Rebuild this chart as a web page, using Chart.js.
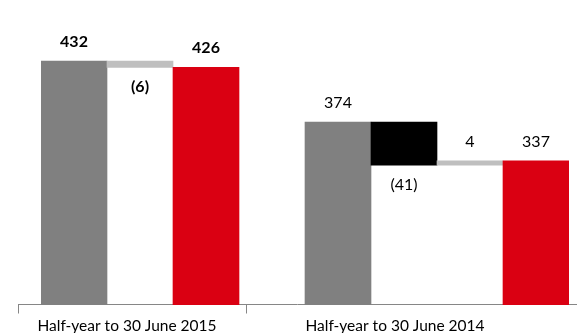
<!DOCTYPE html>
<html>
<head>
<meta charset="utf-8">
<script src="https://cdn.jsdelivr.net/npm/chart.js@4/dist/chart.umd.min.js"></script>
<style>
  html, body { margin: 0; padding: 0; background: #fff; }
</style>
</head>
<body>
<canvas id="chart" width="577" height="333"></canvas>
<script>
// Two periods, each a waterfall from opening total to closing total
const groupLabels = ['Half-year to 30 June 2015', 'Half-year to 30 June 2014'];
// one slot per bar; the empty slot separates the two periods
const slotNames = ['2015 open', '2015 change', '2015 close', '', '2014 open', '2014 change 1', '2014 change 2', '2014 close'];
const stepValues = [432, -6, 426, null, 374, -41, 4, 337];
const stepIsTotal = [true, false, true, false, true, false, false, true];
const stepColors = ['#808080', '#BFBFBF', '#DA0012', null, '#808080', '#000000', '#BFBFBF', '#DA0012'];
const boldSlots = [true, true, true, false, false, false, false, false];
const axisFloor = 200;
const axisCeiling = 490;

// turn totals and changes into floating [from, to] bars
let level = 0;
const ranges = stepValues.map((v, i) => {
  if (v === null) return null;
  if (stepIsTotal[i]) {
    level = v;
    return [axisFloor, v];
  }
  const from = level;
  level += v;
  return [Math.min(from, level), Math.max(from, level)];
});

const labelText = v => (v < 0 ? '(' + (-v) + ')' : String(v));

// baseline, period dividers and period names
const periodAxis = {
  id: 'periodAxis',
  beforeDatasetsDraw(chart) {
    const { ctx, chartArea } = chart;
    const y = chartArea.bottom - 0.5;
    ctx.save();
    ctx.strokeStyle = '#868686';
    ctx.lineWidth = 1;
    ctx.beginPath();
    ctx.moveTo(chartArea.left - 23, y);
    ctx.lineTo(chart.width, y);
    [chartArea.left - 22.5, chartArea.left + 205.5].forEach(x => {
      ctx.moveTo(x, y);
      ctx.lineTo(x, y + 9);
    });
    ctx.stroke();

    ctx.fillStyle = '#000';
    ctx.font = '15.5px Lato';
    ctx.textAlign = 'center';
    ctx.textBaseline = 'middle';
    ctx.fillText(groupLabels[0], chartArea.left + 86, y + 21);
    ctx.fillText(groupLabels[1], chartArea.left + 354, y + 21);
    ctx.restore();
  }
};

// value labels: above totals and rises, below falls
const stepLabels = {
  id: 'stepLabels',
  afterDatasetsDraw(chart) {
    const { ctx } = chart;
    const yScale = chart.scales.y;
    const meta = chart.getDatasetMeta(0);
    ctx.save();
    ctx.fillStyle = '#000';
    ctx.textAlign = 'center';
    ctx.textBaseline = 'middle';
    stepValues.forEach((v, i) => {
      if (v === null) return;
      const bar = meta.data[i];
      const r = ranges[i];
      ctx.font = (boldSlots[i] ? 'bold ' : '') + '16px Lato';
      let y;
      if (!stepIsTotal[i] && v < 0) {
        y = yScale.getPixelForValue(r[0]) + 20;
      } else {
        y = yScale.getPixelForValue(r[1]) - 19;
      }
      ctx.fillText(labelText(v), bar.x, y);
    });
    ctx.restore();
  }
};

new Chart(document.getElementById('chart'), {
  type: 'bar',
  data: {
    labels: slotNames,
    datasets: [{
      data: ranges,
      backgroundColor: stepColors,
      borderWidth: 0,
      categoryPercentage: 1,
      barPercentage: 1
    }]
  },
  options: {
    responsive: false,
    animation: false,
    layout: { padding: { left: 41, right: 8, top: 0, bottom: 28 } },
    plugins: {
      legend: { display: false },
      tooltip: { enabled: false }
    },
    scales: {
      x: { display: false },
      y: { display: false, min: axisFloor, max: axisCeiling }
    }
  },
  plugins: [periodAxis, stepLabels]
});
</script>
</body>
</html>
